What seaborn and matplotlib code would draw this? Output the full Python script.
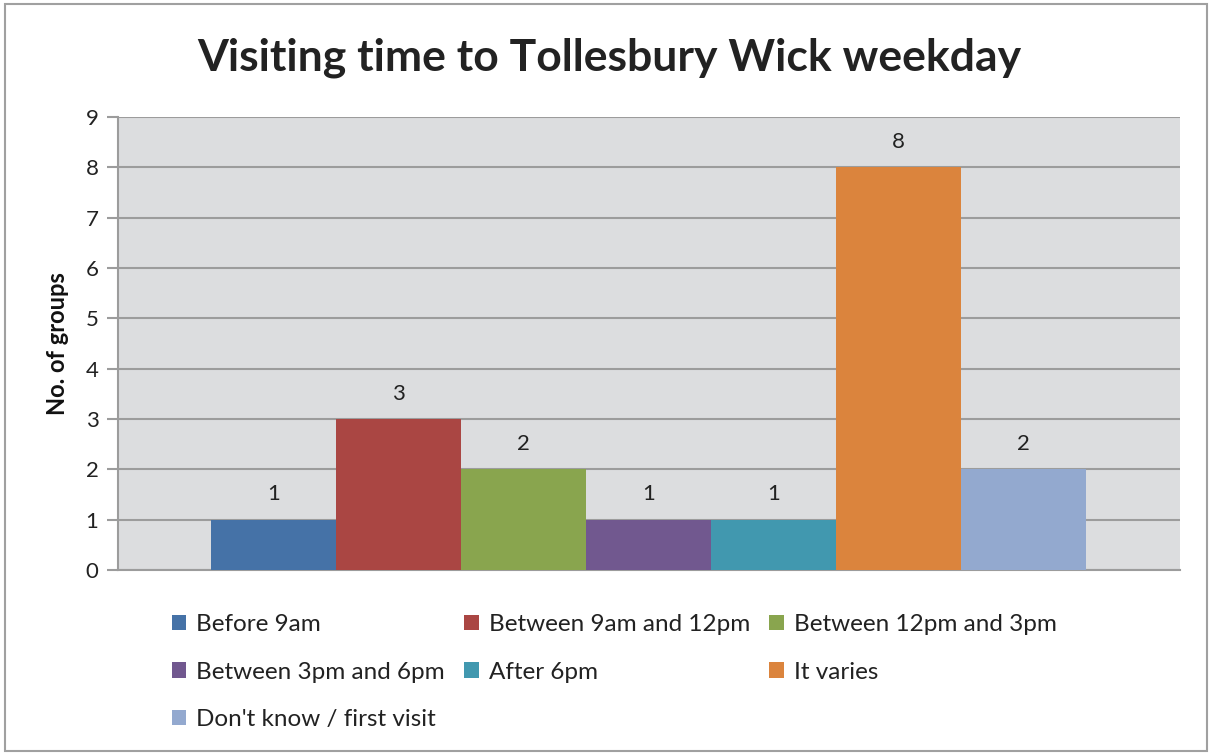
import pandas as pd
import seaborn as sns
import matplotlib.pyplot as plt
from matplotlib.patches import Patch, Rectangle

# chart data
categories = ["Before 9am", "Between 9am and 12pm", "Between 12pm and 3pm",
              "Between 3pm and 6pm", "After 6pm", "It varies",
              "Don't know / first visit"]
groups = [1, 3, 2, 1, 1, 8, 2]
colours = ["#4572A7", "#AA4643", "#89A54E", "#71588F", "#4198AF", "#DB843D", "#93A9CF"]

df = pd.DataFrame({"time": categories, "groups": groups})

sns.set_style("white")
plt.rcParams["font.family"] = ["Lato", "DejaVu Sans"]

fig = plt.figure(figsize=(12.1, 7.53), dpi=100)
ax = fig.add_axes([118 / 1210, 1 - 570 / 753, (1180 - 118) / 1210, (570 - 117) / 753])

sns.barplot(data=df, x="time", y="groups", hue="time", palette=colours,
            width=1.0, legend=False, ax=ax, saturation=1, linewidth=0, zorder=3)

ax.set_facecolor("#DCDDDF")
ax.set_xlim(-1.244, 7.252)
ax.set_ylim(0, 9)
ax.set_yticks(range(0, 10))
ax.yaxis.grid(True, color="#9C9C9C", linewidth=1.5, zorder=0)
ax.set_axisbelow(True)
ax.set_xticks([])
ax.set_xlabel("")
ax.set_ylabel("No. of groups", fontsize=17, fontweight="bold", labelpad=12,
              color="#111111")
ax.tick_params(axis="y", labelsize=16, length=8, width=1.5, color="#9C9C9C",
               left=True, pad=6, labelcolor="#222222")
for side in ["top", "right"]:
    ax.spines[side].set_visible(False)
for side in ["left", "bottom"]:
    ax.spines[side].set_color("#9C9C9C")
    ax.spines[side].set_linewidth(1.5)

# value labels
for c in ax.containers:
    ax.bar_label(c, padding=11, fontsize=16, color="#222222")

fig.text(0.5035, 1 - 58 / 753, "Visiting time to Tollesbury Wick weekday",
         ha="center", va="center", fontsize=32, fontweight="bold", color="#222222")

handles = [Patch(facecolor=col, edgecolor="none") for col in colours]
# Excel-style row-major legend -> reorder for matplotlib column fill
order = [0, 3, 6, 1, 4, 2, 5]
leg_handles = [handles[i] for i in order]
leg_labels = [categories[i] for i in order]
fig.legend(leg_handles, leg_labels, ncol=3, loc="upper left",
           bbox_to_anchor=(150 / 1210, 1 - 592 / 753), frameon=False,
           fontsize=17.5, handlelength=0.6, handleheight=0.6, handletextpad=0.4,
           columnspacing=0.8, labelspacing=1.1, labelcolor="#222222")

# chart border
fig.patches.append(Rectangle((5 / 1210, 0.002), 1202 / 1210, 1 - 4 / 753 - 0.002,
                             transform=fig.transFigure, fill=False,
                             edgecolor="#A0A0A0", linewidth=1.5))

fig.savefig("out.png", dpi=100)
